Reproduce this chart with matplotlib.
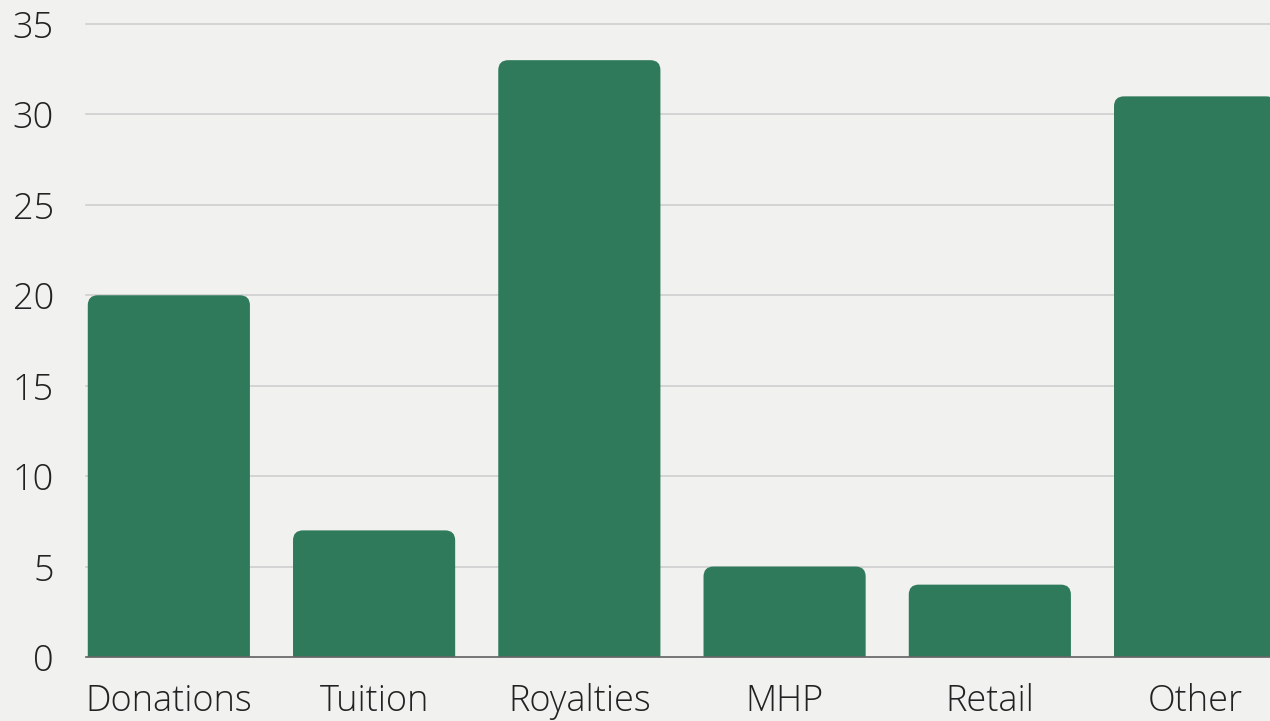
import matplotlib
matplotlib.use("Agg")
import matplotlib.pyplot as plt
from matplotlib.patches import FancyBboxPatch

categories = ["Donations", "Tuition", "Royalties", "MHP", "Retail", "Other"]
values = [20, 7, 33, 5, 4, 31]
yticks = [0, 5, 10, 15, 20, 25, 30, 35]

plt.rcParams['font.family'] = ['Open Sans', 'DejaVu Sans']
plt.rcParams['font.weight'] = 'light'

fig = plt.figure(figsize=(12.7, 7.21), dpi=100)
bg = "#f1f1f0"
fig.patch.set_facecolor(bg)
ax = fig.add_axes([0.0675, 0.0888, 0.9325, 0.8779])
ax.set_facecolor(bg)

bar_color = "#2f7a5b"
x = list(range(len(categories)))
bars = ax.bar(x, values, width=0.79, color=bar_color, zorder=3)

ax.set_xlim(-0.405, 5.365)
ax.set_ylim(0, 35)

# replace bars with rounded-top versions
xs_px = 205.4
ys_px = 18.09
r_x = 10 / xs_px
aspect = xs_px / ys_px
for b in bars:
    x0, w, h = b.get_x(), b.get_width(), b.get_height()
    ext = r_x * aspect * 1.2
    p = FancyBboxPatch((x0, -ext), w, h + ext,
                       boxstyle=f"round,pad=0,rounding_size={r_x}",
                       mutation_aspect=aspect,
                       facecolor=bar_color, edgecolor="none", zorder=3)
    ax.add_patch(p)
    b.set_visible(False)

ax.set_yticks(yticks)
ax.set_xticks(x)
ax.set_xticklabels(categories)
ax.yaxis.grid(True, color="#cfcfcf", linewidth=1.2, zorder=0)
ax.set_axisbelow(True)
for s in ["top", "right", "left"]:
    ax.spines[s].set_visible(False)
ax.spines["bottom"].set_color("#666666")
ax.spines["bottom"].set_linewidth(1.2)
ax.spines["bottom"].set_zorder(4)
ax.tick_params(axis="both", length=0, colors="#222222")
ax.tick_params(axis="y", pad=23, labelsize=26)
ax.tick_params(axis="x", pad=19, labelsize=26)
for gl in ax.get_ygridlines():
    gl.set_clip_on(False)

fig.savefig("out.png", dpi=100, facecolor=bg)
